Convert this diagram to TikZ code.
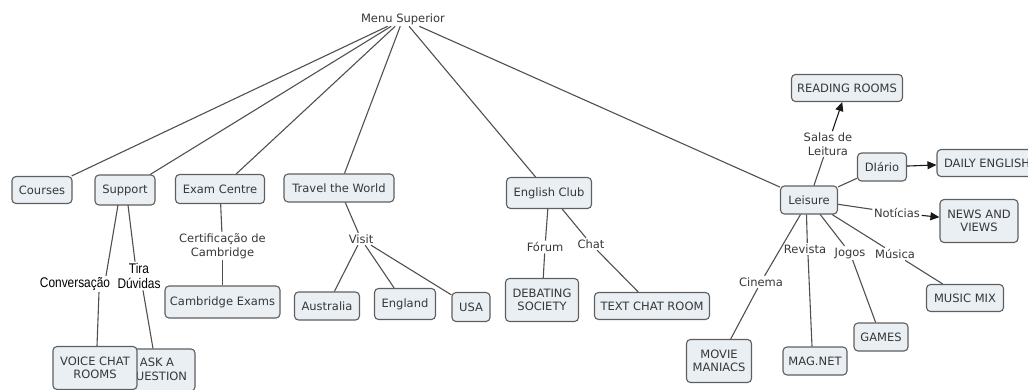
\documentclass[tikz,border=0pt]{standalone}
\usepackage{fontspec}
\setmainfont{DejaVu Sans}
\newfontfamily\narrowfont[FakeStretch=0.85]{Liberation Sans}
\usetikzlibrary{arrows.meta}
\definecolor{boxfill}{RGB}{233,239,243}
\definecolor{boxline}{RGB}{95,95,95}
\definecolor{txt}{RGB}{55,55,55}
\definecolor{edge}{RGB}{80,80,80}
\tikzset{
  cbox/.style={draw=boxline, fill=boxfill, rounded corners=4pt, line width=1.1pt,
    align=center, inner sep=2pt, text=txt, font=\fontsize{11.5}{13.5}\selectfont},
  lab/.style={align=center, inner sep=1.5pt, text=txt, font=\fontsize{11.5}{13.5}\selectfont},
  blab/.style={align=center, inner sep=1.5pt, text=black, font=\narrowfont\fontsize{14}{15}\selectfont},
  link/.style={draw=edge, line width=1.1pt},
  arr/.style={draw=edge, line width=1.1pt, -{Triangle[length=9pt,width=8pt]}, color=black!90},
}
\begin{document}
\begin{tikzpicture}[x=1pt,y=-1pt]
\useasboundingbox (0,0) rectangle (1028,389);
% top
\node[lab] (menu) at (403,19) {Menu Superior};
% level 1
\node[cbox, minimum width=60, minimum height=27] (courses) at (42,190) {Courses};
\node[cbox, minimum width=60, minimum height=30] (support) at (125,190) {Support};
\node[cbox, minimum width=89, minimum height=29] (exam) at (220,189) {Exam Centre};
\node[cbox, minimum width=110, minimum height=28] (travel) at (339,188) {Travel the World};
\node[cbox, minimum width=85, minimum height=31] (club) at (549,193) {English Club};
\node[cbox, minimum width=57, minimum height=28] (leisure) at (809,200) {Leisure};
% support branch
\node[blab] (conv) at (75,284) {Conversação};
\node[blab] (tira) at (139,276) {Tira\\Dúvidas};
\node[cbox, minimum width=76, minimum height=42] (ask) at (157,370) {ASK A\\QUESTION};
\node[cbox, minimum width=84, minimum height=43] (voice) at (95,368) {VOICE CHAT\\ROOMS};
% exam branch
\node[lab] (cert) at (222.5,246) {Certificação de\\Cambridge};
\node[cbox, minimum width=115, minimum height=32] (cexams) at (222.5,302) {Cambridge Exams};
% travel branch
\node[lab] (visit) at (361,239) {Visit};
\node[cbox, minimum width=65, minimum height=28] (aus) at (327,306) {Australia};
\node[cbox, minimum width=61, minimum height=31] (eng) at (405,304) {England};
\node[cbox, minimum width=38, minimum height=29] (usa) at (471,307) {USA};
% club branch
\node[lab] (forum) at (545,247) {Fórum};
\node[lab] (chat) at (591,244) {Chat};
\node[cbox, minimum width=73, minimum height=43] (debate) at (542,300) {DEBATING\\SOCIETY};
\node[cbox, minimum width=115, minimum height=27] (tchat) at (652,306) {TEXT CHAT ROOM};
% leisure branch
\node[lab] (salas) at (828,144) {Salas de\\Leitura};
\node[cbox, minimum width=111, minimum height=27] (read) at (847,88) {READING ROOMS};
\node[cbox, minimum width=49, minimum height=28] (diario) at (882,167) {DIário};
\node[cbox, minimum width=100, minimum height=27] (daily) at (987,163) {DAILY ENGLISH};
\node[lab] (noticias) at (897,213) {Notícias};
\node[cbox, minimum width=78, minimum height=43] (news) at (979,221) {NEWS AND\\VIEWS};
\node[lab] (musica) at (895,254) {Música};
\node[cbox, minimum width=77, minimum height=27] (music) at (965,298) {MUSIC MIX};
\node[lab] (jogos) at (850,253) {Jogos};
\node[cbox, minimum width=54, minimum height=28] (games) at (881,337) {GAMES};
\node[lab, fill=white] (revista) at (805,249) {Revista};
\node[cbox, minimum width=64, minimum height=28] (magnet) at (815,361) {MAG.NET};
\node[lab] (cinema) at (761,282) {Cinema};
\node[cbox, minimum width=65, minimum height=43] (movie) at (719,361) {MOVIE\\MANIACS};
% connectors
\draw[link] (menu) -- (courses);
\draw[link] (menu) -- (support);
\draw[link] (menu) -- (exam);
\draw[link] (menu) -- (travel);
\draw[link] (menu) -- (club);
\draw[link] (menu) -- (leisure);
\coordinate (s1) at (118,205);
\coordinate (s2) at (128,205);
\draw[link] (s1) -- (conv.north -| 106,0);
\draw[link] (conv.south -| 99,0) -- (voice.north -| 97,0);
\draw[link] (s2) -- (tira.north -| 135,0);
\draw[link] (tira.south -| 143,0) -- (ask.north -| 153,0);
\draw[link] (exam) -- (cert);
\draw[link] (cert) -- (cexams);
\draw[link] (travel) -- (visit);
\draw[link] (visit) -- (aus);
\draw[link] (visit) -- (eng);
\draw[link] (visit) -- (usa);
\draw[link] (club) -- (forum);
\draw[link] (forum) -- (debate);
\draw[link] (club) -- (chat);
\draw[link] (chat) -- (tchat);
\draw[link] (leisure) -- (salas);
\draw[arr] (salas) -- (read);
\draw[link] (leisure) -- (diario);
\draw[arr] (diario) -- (daily);
\draw[link] (leisure) -- (noticias);
\draw[arr] (noticias) -- (news);
\draw[link] (leisure) -- (musica);
\draw[link] (musica) -- (music);
\draw[link] (leisure) -- (jogos);
\draw[link] (jogos) -- (games);
\draw[link] (leisure.south -| 806.5,0) -- (revista.north -| 807.3,0);
\draw[link] (revista.south -| 808,0) -- (magnet.north -| 812,0);
\draw[link] (leisure) -- (cinema);
\draw[link] (cinema) -- (movie);
\end{tikzpicture}
\end{document}
